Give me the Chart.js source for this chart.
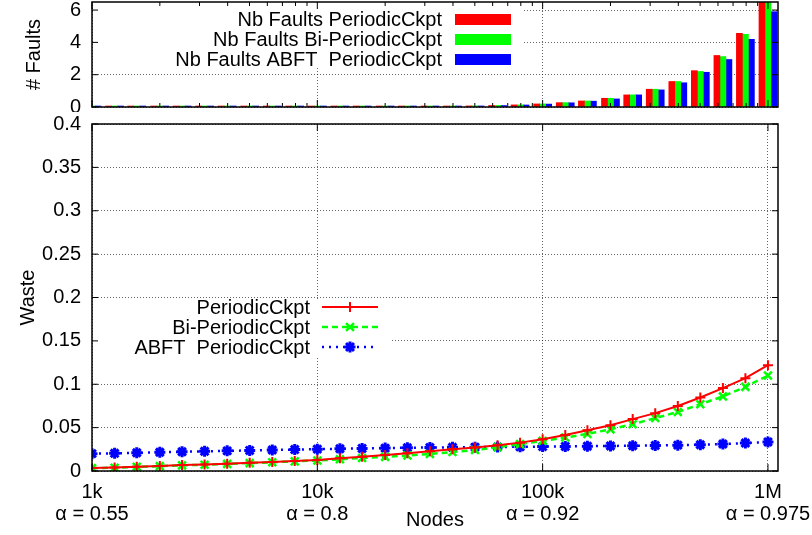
<!DOCTYPE html>
<html>
<head>
<meta charset="utf-8">
<script src="https://cdn.jsdelivr.net/npm/chart.js@4.4.1/dist/chart.umd.min.js"></script>
<style>
  html, body { margin: 0; padding: 0; background: #fff; }
  #wrap { position: relative; width: 812px; height: 535px; }
  #top { position: absolute; left: 0; top: 0; }
  #bottom { position: absolute; left: 0; top: 112px; }
</style>
</head>
<body>
<div id="wrap">
  <div id="top"><canvas id="faults-chart" width="812" height="112"></canvas></div>
  <div id="bottom"><canvas id="waste-chart" width="812" height="423"></canvas></div>
</div>
<script>
// node counts (x), one point every 1/10 decade
const nodes = [1000, 1260, 1580, 2000, 2510, 3160, 3980, 5010, 6310, 7940,
    10000, 12600, 15800, 20000, 25100, 31600, 39800, 50100, 63100, 79400,
    100000, 126000, 158000, 200000, 251000, 316000, 398000, 501000, 631000, 794000,
    1000000];

// top panel: number of faults
const faultsPeriodic = [0.0002, 0.0003, 0.0004, 0.0006, 0.0008, 0.0011, 0.0016, 0.0023, 0.0032, 0.0046,
    0.0065, 0.0092, 0.013, 0.018, 0.026, 0.036, 0.05, 0.068, 0.095, 0.13,
    0.19, 0.27, 0.375, 0.54, 0.75, 1.1, 1.58, 2.25, 3.19, 4.56, 6.6];
const faultsBiPeriodic = [0.0002, 0.0003, 0.0004, 0.0006, 0.0008, 0.0011, 0.0016, 0.0023, 0.0032, 0.0046,
    0.0065, 0.0092, 0.013, 0.018, 0.026, 0.036, 0.05, 0.068, 0.095, 0.13,
    0.19, 0.27, 0.375, 0.54, 0.75, 1.1, 1.58, 2.2, 3.12, 4.5, 6.55];
const faultsAbft = [0.0002, 0.0003, 0.0004, 0.0006, 0.0008, 0.0011, 0.0016, 0.0022, 0.0031, 0.0044,
    0.0062, 0.0088, 0.0125, 0.017, 0.025, 0.034, 0.048, 0.065, 0.09, 0.125,
    0.18, 0.26, 0.36, 0.5, 0.75, 1.06, 1.5, 2.15, 2.94, 4.19, 5.9];

// bottom panel: waste
const wastePeriodic = [0.0035, 0.004, 0.005, 0.0058, 0.0068, 0.0075, 0.0085, 0.0094, 0.0105, 0.0116,
    0.0128, 0.0146, 0.0165, 0.0185, 0.0205, 0.0228, 0.025, 0.027, 0.0297, 0.0327,
    0.0366, 0.0416, 0.047, 0.0528, 0.0598, 0.0667, 0.075, 0.0847, 0.0956, 0.107, 0.122];
const wasteBiPeriodic = [0.0033, 0.0038, 0.0048, 0.0056, 0.0065, 0.0072, 0.0082, 0.0091, 0.0101, 0.0111,
    0.0122, 0.0135, 0.015, 0.0163, 0.0178, 0.0196, 0.0218, 0.0242, 0.0275, 0.031,
    0.0347, 0.0385, 0.0428, 0.048, 0.054, 0.061, 0.068, 0.077, 0.086, 0.097, 0.11];
const wasteAbft = [0.02, 0.0204, 0.021, 0.0216, 0.0222, 0.0227, 0.0232, 0.0237, 0.0242, 0.0247,
    0.0252, 0.0256, 0.026, 0.0264, 0.0268, 0.0271, 0.0273, 0.0275, 0.0277, 0.0279,
    0.0281, 0.0283, 0.0286, 0.0289, 0.0291, 0.0294, 0.0298, 0.0303, 0.0311, 0.0322, 0.0335];

// ticks
const xTickNodes = [1000, 10000, 100000, 1000000];
const xTickLabels = [["1k", "α = 0.55"], ["10k", "α = 0.8"], ["100k", "α = 0.92"], ["1M", "α = 0.975"]];
const faultTicks = [0, 2, 4, 6];
const wasteTicks = [0, 0.05, 0.1, 0.15, 0.2, 0.25, 0.3, 0.35, 0.4];
const minorXTicks = [1e3, 1e4, 1e5].flatMap((d) => [2, 3, 4, 5, 6, 7, 8, 9].map((m) => m * d));

const RED = "#ff0000", GREEN = "#00ff00", BLUE = "#0000ff";
const FONT = '20px "Liberation Sans", Arial, sans-serif';

Chart.defaults.font.family = '"Liberation Sans", Arial, sans-serif';
Chart.defaults.font.size = 20;
Chart.defaults.color = "#000";

const gridStyle = { color: "rgba(0,0,0,0.6)", lineWidth: 1, drawTicks: false, offset: false };
const dotted = { display: false, dash: [1, 2] };

// keep the plot area where it is, labels may hang outside
const noPadding = (scale) => {
    scale.paddingTop = 0; scale.paddingBottom = 0;
    scale.paddingLeft = 0; scale.paddingRight = 0;
};

function drawMarker(ctx, style, x, y, r) {
    ctx.beginPath();
    if (style === "cross" || style === "star") {
        ctx.moveTo(x - r, y); ctx.lineTo(x + r, y);
        ctx.moveTo(x, y - r); ctx.lineTo(x, y + r);
    }
    if (style === "crossRot" || style === "star") {
        const d = r * 0.72;
        ctx.moveTo(x - d, y - d); ctx.lineTo(x + d, y + d);
        ctx.moveTo(x - d, y + d); ctx.lineTo(x + d, y - d);
    }
    ctx.stroke();
}

// gnuplot-like key: white box, right-aligned text, sample on the right
const keyPlugin = {
    id: "key",
    beforeDatasetsDraw(chart, args, opts) {
        const { ctx } = chart;
        ctx.save();
        ctx.fillStyle = "#fff";
        ctx.fillRect(opts.box[0], opts.box[1], opts.box[2], opts.box[3]);
        ctx.font = FONT;
        ctx.textAlign = "right";
        ctx.textBaseline = "middle";
        chart.data.datasets.forEach((ds, i) => {
            const y = opts.y + i * opts.step;
            ctx.fillStyle = "#000";
            ctx.fillText(ds.label, opts.textRight, y + 1);
            if (opts.bars) {
                ctx.fillStyle = ds.backgroundColor;
                ctx.fillRect(opts.sampleLeft, y - 5.5, opts.sampleWidth, 11);
            } else {
                ctx.strokeStyle = ds.borderColor;
                ctx.lineWidth = ds.borderWidth;
                ctx.setLineDash(ds.borderDash || []);
                ctx.beginPath();
                ctx.moveTo(opts.sampleLeft, y);
                ctx.lineTo(opts.sampleLeft + opts.sampleWidth, y);
                ctx.stroke();
                ctx.setLineDash([]);
                ctx.lineWidth = ds.pointBorderWidth;
                drawMarker(ctx, ds.pointStyle, opts.sampleLeft + opts.sampleWidth / 2, y, ds.pointRadius);
            }
        });
        ctx.restore();
    },
};

// full frame with inward tick marks
const framePlugin = {
    id: "frame",
    afterDatasetsDraw(chart, args, opts) {
        const { ctx, chartArea: a, scales } = chart;
        ctx.save();
        ctx.strokeStyle = "#000";
        ctx.lineWidth = 1.5;
        ctx.setLineDash([]);
        ctx.strokeRect(a.left, a.top, a.right - a.left, a.bottom - a.top);
        ctx.lineWidth = 1;
        ctx.beginPath();
        scales.y.ticks.forEach((t) => {
            const py = scales.y.getPixelForValue(t.value);
            ctx.moveTo(a.left, py); ctx.lineTo(a.left + 6, py);
            ctx.moveTo(a.right, py); ctx.lineTo(a.right - 6, py);
        });
        scales.x.ticks.forEach((t) => {
            const px = scales.x.getPixelForValue(t.value);
            ctx.moveTo(px, a.bottom); ctx.lineTo(px, a.bottom - 7);
            ctx.moveTo(px, a.top); ctx.lineTo(px, a.top + 7);
        });
        if (opts.minor) {
            minorXTicks.forEach((v) => {
                const px = scales.x.getPixelForValue(v);
                ctx.moveTo(px, a.bottom); ctx.lineTo(px, a.bottom - 4);
                ctx.moveTo(px, a.top); ctx.lineTo(px, a.top + 4);
            });
        }
        ctx.stroke();
        ctx.restore();
    },
};

const xScaleBase = {
    type: "logarithmic",
    bounds: "data",
    min: 1000,
    max: 1108000,
    offset: false,
    grid: gridStyle,
    border: dotted,
    afterBuildTicks: (scale) => { scale.ticks = xTickNodes.map((v) => ({ value: v })); },
};

// top chart: number of faults
new Chart(document.getElementById("faults-chart"), {
    type: "bar",
    data: {
        labels: nodes,
        datasets: [
            { label: "Nb Faults PeriodicCkpt", data: faultsPeriodic, backgroundColor: RED },
            { label: "Nb Faults Bi-PeriodicCkpt", data: faultsBiPeriodic, backgroundColor: GREEN },
            { label: "Nb Faults ABFT  PeriodicCkpt", data: faultsAbft, backgroundColor: BLUE },
        ],
    },
    options: {
        responsive: false,
        animation: false,
        layout: { padding: { top: 2, right: 34, left: 0, bottom: 0 } },
        datasets: { bar: { barThickness: 6, minBarLength: 1, clip: 0, borderWidth: 0 } },
        plugins: {
            legend: { display: false },
            tooltip: { enabled: false },
            key: { box: [95, 3, 427, 63], y: 19.5, step: 20, textRight: 442, sampleLeft: 455, sampleWidth: 56, bars: true },
            frame: { minor: true },
        },
        scales: {
            x: {
                ...xScaleBase,
                ticks: { display: false },
                afterFit: (scale) => { scale.height = 5; noPadding(scale); },
            },
            y: {
                min: 0,
                max: 6.5,
                grid: gridStyle,
                border: dotted,
                ticks: { padding: 11, autoSkip: false },
                afterBuildTicks: (scale) => { scale.ticks = faultTicks.map((v) => ({ value: v })); },
                afterFit: (scale) => { scale.width = 92; noPadding(scale); },
                title: { display: true, text: "# Faults", padding: { top: 22, bottom: 0 } },
            },
        },
    },
    plugins: [keyPlugin, framePlugin],
});

// bottom chart: waste
new Chart(document.getElementById("waste-chart"), {
    type: "line",
    data: {
        labels: nodes,
        datasets: [
            {
                label: "PeriodicCkpt", data: wastePeriodic,
                borderColor: RED, backgroundColor: RED, borderWidth: 2,
                pointStyle: "cross", pointRadius: 5, pointBorderWidth: 2,
            },
            {
                label: "Bi-PeriodicCkpt", data: wasteBiPeriodic,
                borderColor: GREEN, backgroundColor: GREEN, borderWidth: 2.5, borderDash: [6, 4],
                pointStyle: "crossRot", pointRadius: 5.5, pointBorderWidth: 2.5,
            },
            {
                label: "ABFT  PeriodicCkpt", data: wasteAbft,
                borderColor: BLUE, backgroundColor: BLUE, borderWidth: 2.5, borderDash: [2, 5],
                pointStyle: "star", pointRadius: 5.5, pointBorderWidth: 3,
            },
        ],
    },
    options: {
        responsive: false,
        animation: false,
        layout: { padding: { top: 12, right: 34, left: 0, bottom: 0 } },
        elements: { line: { tension: 0 } },
        plugins: {
            legend: { display: false },
            tooltip: { enabled: false },
            key: { box: [95, 187, 295, 58], y: 195, step: 20, textRight: 310, sampleLeft: 322, sampleWidth: 56, bars: false },
            frame: { minor: false },
        },
        scales: {
            x: {
                ...xScaleBase,
                ticks: { autoSkip: false, maxRotation: 0, padding: 10, font: { lineHeight: 1.1 }, callback: (v, i) => xTickLabels[i] },
                afterFit: (scale) => { scale.height = 64; noPadding(scale); },
                title: { display: true, text: "Nodes", padding: { top: 0, bottom: 3 } },
            },
            y: {
                min: 0,
                max: 0.4,
                grid: gridStyle,
                border: dotted,
                ticks: { padding: 11, autoSkip: false, callback: (v, i) => String(wasteTicks[i]) },
                afterBuildTicks: (scale) => { scale.ticks = wasteTicks.map((v) => ({ value: v })); },
                afterFit: (scale) => { scale.width = 92; noPadding(scale); },
                title: { display: true, text: "Waste", padding: { top: 16, bottom: 0 } },
            },
        },
    },
    plugins: [keyPlugin, framePlugin],
});
</script>
</body>
</html>
